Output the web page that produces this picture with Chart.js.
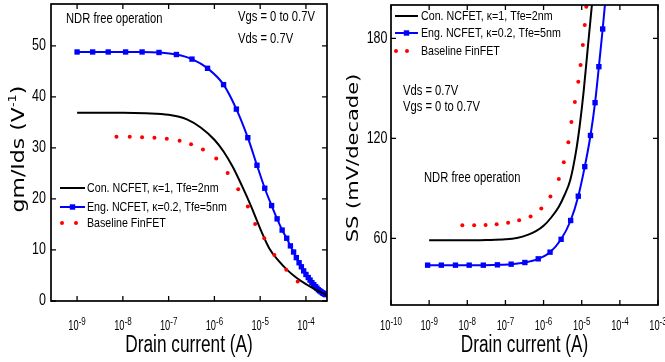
<!DOCTYPE html>
<html>
<head>
<meta charset="utf-8">
<script src="https://cdn.jsdelivr.net/npm/chart.js@4.4.0/dist/chart.umd.min.js"></script>
<style>
html, body { margin: 0; padding: 0; background: #fff; }
#wrap { position: relative; width: 665px; height: 362px; overflow: hidden; }
canvas { position: absolute; top: 0; }
#gmChart { left: 0; }
#ssChart { left: 335px; }
</style>
</head>
<body>
<div id="wrap">
  <canvas id="gmChart" width="335" height="362"></canvas>
  <canvas id="ssChart" width="330" height="362"></canvas>
</div>
<script>
'use strict';

// x values are log10 of the drain current (A)

// left panel: gm/Ids (1/V)
const engGmLogI = [-9, -8.66, -8.32, -7.94, -7.58, -7.21, -6.83, -6.49, -6.15, -5.80, -5.52, -5.27, -5.07, -4.90, -4.75, -4.63, -4.52, -4.42, -4.34, -4.27, -4.21, -4.15, -4.10, -4.05, -4.00, -3.95, -3.91, -3.87, -3.83, -3.79, -3.76, -3.73, -3.70, -3.67, -3.64, -3.62, -3.60, -3.58, -3.57];
const engGm = [48.8, 48.8, 48.8, 48.8, 48.8, 48.7, 48.3, 47.4, 45.6, 42.4, 37.6, 32.0, 26.6, 22.1, 18.7, 16.1, 13.9, 12.3, 10.8, 9.6, 8.5, 7.5, 6.7, 5.9, 5.2, 4.6, 4.1, 3.6, 3.2, 2.8, 2.5, 2.2, 2.0, 1.8, 1.6, 1.5, 1.4, 1.3, 1.25];
const conGmLogI = [-9, -8, -7.5, -7, -6.6, -6.3, -6, -5.8, -5.6, -5.4, -5.2, -5, -4.8, -4.6, -4.4, -4.2, -4, -3.8, -3.56];
const conGm = [36.9, 36.9, 36.8, 36.5, 35.6, 34.0, 31.6, 29.3, 26.3, 22.6, 18.6, 14.2, 10.3, 7.9, 6.0, 4.5, 3.3, 2.3, 1.2];
const baseGmLogI = [-8.14, -7.85, -7.58, -7.31, -7.04, -6.76, -6.51, -6.25, -5.96, -5.71, -5.48, -5.27, -5.11, -4.91, -4.69, -4.43, -4.18];
const baseGm = [32.2, 32.2, 32.1, 32.0, 31.8, 31.4, 30.7, 29.7, 27.9, 25.1, 21.9, 18.5, 15.1, 12.3, 9.0, 6.1, 3.8];

// right panel: SS (mV/decade)
const engSsLogI = [-9.04, -8.68, -8.31, -7.95, -7.58, -7.21, -6.85, -6.49, -6.14, -5.83, -5.54, -5.29, -5.09, -4.92, -4.77, -4.65, -4.55, -4.45, -4.36];
const engSs = [43.9, 43.9, 43.9, 43.9, 43.9, 44.1, 44.5, 45.5, 47.7, 51.7, 59.4, 70.7, 85.3, 103, 121.7, 141.4, 163, 185.6, 208];
const conSsLogI = [-9, -8, -7.5, -7, -6.7, -6.4, -6.2, -6, -5.8, -5.6, -5.45, -5.3, -5.15, -5.05, -4.95, -4.85, -4.75, -4.68];
const conSs = [58.8, 58.8, 59.0, 59.4, 60.2, 62.2, 64.3, 67.5, 72.5, 79, 86, 95, 112, 128, 148, 172, 196, 212];
const baseSsLogI = [-8.13, -7.82, -7.52, -7.23, -6.93, -6.64, -6.34, -6.06, -5.82, -5.60, -5.47, -5.35, -5.27, -5.18, -5.09, -5.03, -4.97, -4.92, -4.88];
const baseSs = [67.8, 67.8, 68.0, 68.4, 69.4, 70.9, 73.1, 77.9, 85.1, 95.6, 105.6, 117.7, 129.8, 141.8, 153.9, 164, 176, 188, 199];

// ticks
const gmXTickExp = [-9, -8, -7, -6, -5, -4];
const gmYTicks = [0, 10, 20, 30, 40, 50];
const ssXTickExp = [-10, -9, -8, -7, -6, -5, -4, -3];
const ssYTicks = [60, 120, 180];

const seriesNames = ['Con. NCFET, \u03BA=1, Tfe=2nm', 'Eng. NCFET, \u03BA=0.2, Tfe=5nm', 'Baseline FinFET'];

const FONT = '"Liberation Sans", Arial, sans-serif';

function pts(logI, vals) {
    return logI.map((e, i) => ({ x: 10 ** e, y: vals[i] }));
}

// squeezed text, the original figure is narrow
function txt(ctx, s, x, y, size, opt = {}) {
    ctx.save();
    ctx.font = size + 'px ' + FONT;
    ctx.fillStyle = '#000';
    ctx.textBaseline = opt.baseline || 'middle';
    ctx.textAlign = opt.align || 'left';
    ctx.translate(x, y);
    ctx.scale(opt.sx || 0.8, 1);
    ctx.fillText(s, 0, 0);
    ctx.restore();
}

function textW(ctx, s, size, sx) {
    ctx.save();
    ctx.font = size + 'px ' + FONT;
    const w = ctx.measureText(s).width * sx;
    ctx.restore();
    return w;
}

function drawYTitle(ctx, parts, cx, cy, size, squeeze) {
    ctx.save();
    ctx.translate(cx, cy);
    ctx.rotate(-Math.PI / 2);
    ctx.scale(1, squeeze);
    ctx.fillStyle = '#000';
    ctx.textBaseline = 'middle';
    ctx.textAlign = 'left';
    const fonts = parts.map((p) => (p.sup ? Math.round(size * 0.6) : size) + 'px "DejaVu Sans", sans-serif');
    let total = 0;
    const widths = parts.map((p, i) => {
        ctx.font = fonts[i];
        const w = ctx.measureText(p.t).width;
        total += w;
        return w;
    });
    let x = -total / 2;
    parts.forEach((p, i) => {
        ctx.font = fonts[i];
        ctx.fillText(p.t, x, p.sup ? -size * 0.4 : 0);
        x += widths[i];
    });
    ctx.restore();
}

function panelPlugin(d) {
    return {
        id: 'panel',
        afterDraw(chart) {
            const ctx = chart.ctx;
            const a = chart.chartArea;
            const xs = chart.scales.x;
            const ys = chart.scales.y;

            // frame + inward ticks on all sides
            ctx.save();
            ctx.strokeStyle = '#000';
            ctx.lineWidth = 1.7;
            ctx.strokeRect(a.left, a.top, a.right - a.left, a.bottom - a.top);
            ctx.lineWidth = 1.3;
            ctx.beginPath();
            d.xTickExp.forEach((e) => {
                const px = xs.getPixelForValue(10 ** e);
                ctx.moveTo(px, a.bottom);
                ctx.lineTo(px, a.bottom - 5);
                ctx.moveTo(px, a.top);
                ctx.lineTo(px, a.top + 5);
            });
            d.yTicks.forEach((v) => {
                const py = ys.getPixelForValue(v);
                ctx.moveTo(a.left, py);
                ctx.lineTo(a.left + 5, py);
                ctx.moveTo(a.right, py);
                ctx.lineTo(a.right - 5, py);
            });
            ctx.stroke();
            ctx.restore();

            // tick labels
            d.yTicks.forEach((v) => {
                txt(ctx, String(v), a.left - d.yLabelGap, ys.getPixelForValue(v), 16, { align: 'right', sx: 0.78 });
            });
            d.xTickExp.forEach((e) => {
                const px = xs.getPixelForValue(10 ** e);
                const w10 = textW(ctx, '10', 15, 0.62);
                const wExp = textW(ctx, String(e), 10, 0.8);
                const x0 = px - (w10 + wExp) / 2;
                txt(ctx, '10', x0, 330, 15, { baseline: 'alphabetic', sx: 0.62 });
                txt(ctx, String(e), x0 + w10, 324.5, 10, { baseline: 'alphabetic', sx: 0.8 });
            });

            // axis titles
            txt(ctx, 'Drain current (A)', (a.left + a.right) / 2, 352, 23, { align: 'center', baseline: 'alphabetic', sx: 0.75 });
            drawYTitle(ctx, d.yTitle, d.yTitlePos[0], d.yTitlePos[1], d.yTitleSize, 0.78);

            // legend
            const L = d.legend;
            ctx.save();
            ctx.lineWidth = 2;
            ctx.strokeStyle = '#000';
            ctx.beginPath();
            ctx.moveTo(L.x0, L.y[0]);
            ctx.lineTo(L.x1, L.y[0]);
            ctx.stroke();
            ctx.strokeStyle = '#0000ff';
            ctx.beginPath();
            ctx.moveTo(L.x0, L.y[1]);
            ctx.lineTo(L.x1, L.y[1]);
            ctx.stroke();
            ctx.fillStyle = '#0000ff';
            const mx = (L.x0 + L.x1) / 2;
            ctx.fillRect(mx - 2.7, L.y[1] - 2.7, 5.4, 5.4);
            ctx.fillStyle = '#ff0000';
            L.dots.forEach((dx) => {
                ctx.beginPath();
                ctx.arc(dx, L.y[2], 2, 0, Math.PI * 2);
                ctx.fill();
            });
            ctx.restore();
            seriesNames.forEach((s, i) => txt(ctx, s, L.textX, L.y[i], 13, { sx: 0.82 }));

            // notes
            d.notes.forEach((n) => txt(ctx, n.t, n.x, n.y, 14, { sx: 0.8 }));
        },
    };
}

function makeChart(id, d) {
    const canvas = document.getElementById(id);
    return new Chart(canvas, {
        type: 'scatter',
        data: {
            datasets: [
                {
                    label: seriesNames[2],
                    data: pts(d.baseX, d.baseY),
                    showLine: false,
                    pointRadius: 2,
                    pointBackgroundColor: '#ff0000',
                    pointBorderWidth: 0,
                },
                {
                    label: seriesNames[0],
                    data: pts(d.conX, d.conY),
                    showLine: true,
                    borderColor: '#000000',
                    borderWidth: 2,
                    pointRadius: 0,
                    cubicInterpolationMode: 'monotone',
                },
                {
                    label: seriesNames[1],
                    data: pts(d.engX, d.engY),
                    showLine: true,
                    borderColor: '#0000ff',
                    borderWidth: 2,
                    pointStyle: 'rect',
                    pointRadius: 3.8,
                    pointBackgroundColor: '#0000ff',
                    pointBorderWidth: 0,
                    cubicInterpolationMode: 'monotone',
                },
            ],
        },
        options: {
            responsive: false,
            animation: false,
            devicePixelRatio: 1,
            events: [],
            layout: {
                padding: { left: 0, top: d.frame.top, right: canvas.width - d.frame.right, bottom: 0 },
            },
            plugins: {
                legend: { display: false },
                tooltip: { enabled: false },
            },
            scales: {
                x: {
                    type: 'logarithmic',
                    min: 10 ** d.xMin,
                    max: 10 ** d.xMax,
                    grid: { display: false },
                    border: { display: false },
                    ticks: { display: false },
                    afterBuildTicks: (s) => {
                        s.ticks = d.xTickExp.map((e) => ({ value: 10 ** e }));
                    },
                    afterFit: (s) => {
                        s.height = canvas.height - d.frame.bottom;
                        s.paddingLeft = 0;
                        s.paddingRight = 0;
                    },
                },
                y: {
                    type: 'linear',
                    min: d.yMin,
                    max: d.yMax,
                    grid: { display: false },
                    border: { display: false },
                    ticks: { display: false },
                    afterBuildTicks: (s) => {
                        s.ticks = d.yTicks.map((v) => ({ value: v }));
                    },
                    afterFit: (s) => {
                        s.width = d.frame.left;
                        s.paddingTop = 0;
                        s.paddingBottom = 0;
                    },
                },
            },
        },
        plugins: [panelPlugin(d)],
    });
}

makeChart('gmChart', {
    engX: engGmLogI, engY: engGm,
    conX: conGmLogI, conY: conGm,
    baseX: baseGmLogI, baseY: baseGm,
    xMin: -9.57, xMax: -3.54, yMin: 0, yMax: 58.2,
    xTickExp: gmXTickExp, yTicks: gmYTicks,
    frame: { left: 51, right: 327, top: 4, bottom: 301 },
    yLabelGap: 5,
    yTitle: [{ t: 'gm/Ids (V' }, { t: '-1', sup: true }, { t: ')' }],
    yTitlePos: [20, 149],
    yTitleSize: 22,
    legend: { x0: 60, x1: 85, textX: 87, y: [188, 207, 223], dots: [62, 76] },
    notes: [
        { t: 'NDR free operation', x: 66, y: 19.5 },
        { t: 'Vgs = 0 to 0.7V', x: 238, y: 17.5 },
        { t: 'Vds = 0.7V', x: 238, y: 39 },
    ],
});

makeChart('ssChart', {
    engX: engSsLogI, engY: engSs,
    conX: conSsLogI, conY: conSs,
    baseX: baseSsLogI, baseY: baseSs,
    xMin: -10, xMax: -3, yMin: 20, yMax: 200,
    xTickExp: ssXTickExp, yTicks: ssYTicks,
    frame: { left: 56, right: 323, top: 5, bottom: 305 },
    yLabelGap: 3.5,
    yTitle: [{ t: 'SS (mV/decade)' }],
    yTitlePos: [19, 158],
    yTitleSize: 21,
    legend: { x0: 60, x1: 83, textX: 86, y: [16, 33, 51], dots: [61, 72] },
    notes: [
        { t: 'Vds = 0.7V', x: 68, y: 91 },
        { t: 'Vgs = 0 to 0.7V', x: 68, y: 107 },
        { t: 'NDR free operation', x: 89, y: 178 },
    ],
});
</script>
</body>
</html>
